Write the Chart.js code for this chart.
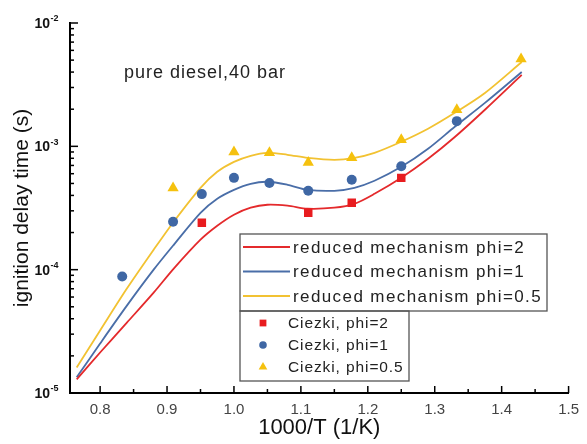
<!DOCTYPE html>
<html>
<head>
<meta charset="utf-8">
<script src="https://cdn.jsdelivr.net/npm/chart.js@4.4.0/dist/chart.umd.min.js"></script>
<style>
  body { margin: 0; background: #fff; }
  #wrap { width: 587px; height: 444px; }
</style>
</head>
<body>
<div id="wrap"><canvas id="delayChart" width="587" height="444"></canvas></div>
<script>
// 1000/T values for the model curves
var curveX = [0.765, 0.80, 0.84, 0.88, 0.91, 0.95, 0.975, 1.0, 1.025, 1.05, 1.08, 1.11, 1.15, 1.18, 1.21, 1.25, 1.29, 1.33, 1.375, 1.43];
var redCurve = [1.29e-5, 2.13e-5, 3.72e-5, 6.51e-5, 1.02e-4, 1.75e-4, 2.27e-4, 2.79e-4, 3.18e-4, 3.36e-4, 3.30e-4, 3.12e-4, 3.18e-4, 3.42e-4, 4.12e-4, 5.56e-4, 7.92e-4, 1.19e-3, 1.98e-3, 3.79e-3];
var blueCurve = [1.34e-5, 2.52e-5, 5.11e-5, 1.00e-4, 1.59e-4, 2.89e-4, 3.76e-4, 4.44e-4, 4.97e-4, 5.16e-4, 4.88e-4, 4.44e-4, 4.36e-4, 4.61e-4, 5.26e-4, 6.82e-4, 9.55e-4, 1.44e-3, 2.25e-3, 4.01e-3];
var yellowCurve = [1.61e-5, 3.21e-5, 7.02e-5, 1.45e-4, 2.45e-4, 4.61e-4, 6.22e-4, 7.49e-4, 8.38e-4, 8.86e-4, 8.54e-4, 8.07e-4, 7.78e-4, 8.07e-4, 8.86e-4, 1.09e-3, 1.39e-3, 1.87e-3, 2.71e-3, 4.83e-3];

// Ciezki measurements
var redPtsX = [0.952, 1.111, 1.176, 1.25];
var redPtsY = [2.4e-4, 2.9e-4, 3.49e-4, 5.55e-4];
var bluePtsX = [0.833, 0.909, 0.952, 1.0, 1.053, 1.111, 1.176, 1.25, 1.333];
var bluePtsY = [8.8e-5, 2.45e-4, 4.1e-4, 5.55e-4, 5.05e-4, 4.37e-4, 5.36e-4, 6.9e-4, 1.6e-3];
var yellowPtsX = [0.909, 1.0, 1.053, 1.111, 1.176, 1.25, 1.333, 1.429];
var yellowPtsY = [4.6e-4, 9.0e-4, 8.86e-4, 7.4e-4, 8.07e-4, 1.13e-3, 1.98e-3, 5.1e-3];

var lineLabels = ['reduced mechanism phi=2', 'reduced mechanism phi=1', 'reduced mechanism phi=0.5'];
var pointLabels = ['Ciezki, phi=2', 'Ciezki, phi=1', 'Ciezki, phi=0.5'];

var xTicks = [0.8, 0.9, 1.0, 1.1, 1.2, 1.3, 1.4, 1.5];
var xTickLabels = ['0.8', '0.9', '1.0', '1.1', '1.2', '1.3', '1.4', '1.5'];
var xMinor = [0.85, 0.95, 1.05, 1.15, 1.25, 1.35, 1.45];
var yTicks = [1e-5, 1e-4, 1e-3, 1e-2];
var yTickExp = ['-5', '-4', '-3', '-2'];
var noteText = 'pure diesel,40 bar';

function pairs(xs, ys) {
  return xs.map(function (v, i) { return { x: v, y: ys[i] }; });
}

var font = 'Liberation Sans, Arial, sans-serif';

// inward ticks, superscript labels, note text and the two-box legend
var decor = {
  id: 'decor',
  afterDraw: function (chart) {
    var ctx = chart.ctx, area = chart.chartArea;
    var xs = chart.scales.x, ys = chart.scales.y;
    ctx.save();
    ctx.strokeStyle = '#000';
    ctx.lineWidth = 1.5;
    function seg(x1, y1, x2, y2) {
      ctx.beginPath(); ctx.moveTo(x1, y1); ctx.lineTo(x2, y2); ctx.stroke();
    }
    xTicks.forEach(function (v) {
      var p = xs.getPixelForValue(v);
      seg(p, area.bottom, p, area.bottom - 7);
    });
    xMinor.forEach(function (v) {
      var p = xs.getPixelForValue(v);
      seg(p, area.bottom, p, area.bottom - 4);
    });
    yTicks.forEach(function (v, i) {
      var p = ys.getPixelForValue(v);
      seg(area.left, p, area.left + 8, p);
      if (i < yTicks.length - 1) {
        for (var m = 2; m <= 9; m++) {
          var q = ys.getPixelForValue(v * m);
          seg(area.left, q, area.left + 4, q);
        }
      }
    });

    // y labels 10^n
    ctx.fillStyle = '#111';
    ctx.textBaseline = 'middle';
    yTicks.forEach(function (v, i) {
      var p = ys.getPixelForValue(v);
      ctx.font = 'bold 14px ' + font;
      ctx.textAlign = 'right';
      ctx.fillText('10', 50, p + 1);
      ctx.font = 'bold 9px ' + font;
      ctx.textAlign = 'left';
      ctx.fillText(yTickExp[i], 50.5, p - 4);
    });

    // note
    ctx.font = '18px ' + font;
    ctx.letterSpacing = '1px';
    ctx.fillStyle = '#222';
    ctx.textAlign = 'left';
    ctx.textBaseline = 'alphabetic';
    ctx.fillText(noteText, 124, 78);

    // legend
    var ds = chart.data.datasets;
    ctx.letterSpacing = '0px';
    ctx.fillStyle = '#fff';
    ctx.fillRect(240, 234, 307, 77);
    ctx.fillRect(240, 311, 169, 70);
    ctx.strokeStyle = '#555';
    ctx.lineWidth = 1.3;
    ctx.strokeRect(240, 234, 307, 77);
    ctx.strokeRect(240, 311, 169, 70);
    ctx.textBaseline = 'middle';
    for (var i = 0; i < 3; i++) {
      var ly = 247 + i * 24.5;
      ctx.strokeStyle = ds[i].borderColor;
      ctx.lineWidth = 1.8;
      seg(243, ly, 290, ly);
      ctx.fillStyle = '#222';
      ctx.font = '17px ' + font;
      ctx.letterSpacing = '1.4px';
      ctx.fillText(ds[i].label, 293, ly + 1);
    }
    var legendR = [4.8, 3.8, 5];
    for (var j = 0; j < 3; j++) {
      var d = ds[3 + j];
      var py = 323 + j * 22;
      ctx.fillStyle = d.backgroundColor;
      ctx.strokeStyle = d.backgroundColor;
      Chart.helpers.drawPoint(ctx, { pointStyle: d.pointStyle, radius: legendR[j], rotation: 0, borderWidth: 0 }, 263, py);
      ctx.fillStyle = '#222';
      ctx.font = '15.5px ' + font;
      ctx.letterSpacing = '0.9px';
      ctx.fillText(d.label, 288, py + 1);
    }
    ctx.restore();
  }
};

var canvas = document.getElementById('delayChart');
var chart = new Chart(canvas, {
  data: {
    datasets: [
      { type: 'line', label: lineLabels[0], data: pairs(curveX, redCurve), borderColor: '#e42a2c', borderWidth: 1.8, pointRadius: 0, tension: 0.3, order: 2 },
      { type: 'line', label: lineLabels[1], data: pairs(curveX, blueCurve), borderColor: '#4a6ea8', borderWidth: 1.8, pointRadius: 0, tension: 0.3, order: 2 },
      { type: 'line', label: lineLabels[2], data: pairs(curveX, yellowCurve), borderColor: '#f2c232', borderWidth: 1.8, pointRadius: 0, tension: 0.3, order: 2 },
      { type: 'scatter', label: pointLabels[0], data: pairs(redPtsX, redPtsY), backgroundColor: '#e81c1f', borderColor: '#e81c1f', pointStyle: 'rect', pointRadius: 6, borderWidth: 0, order: 1 },
      { type: 'scatter', label: pointLabels[1], data: pairs(bluePtsX, bluePtsY), backgroundColor: '#3f67a4', borderColor: '#3f67a4', pointStyle: 'circle', pointRadius: 5, borderWidth: 0, order: 1 },
      { type: 'scatter', label: pointLabels[2], data: pairs(yellowPtsX, yellowPtsY), backgroundColor: '#f5c10e', borderColor: '#f5c10e', pointStyle: 'triangle', pointRadius: 6.5, borderWidth: 0, order: 1 }
    ]
  },
  options: {
    responsive: false,
    animation: false,
    layout: { padding: { left: 0, top: 23, right: 14, bottom: 0 } },
    plugins: { legend: { display: false }, tooltip: { enabled: false } },
    scales: {
      x: {
        type: 'linear',
        min: 0.755,
        max: 1.5,
        afterBuildTicks: function (s) { s.ticks = xTicks.map(function (v) { return { value: v }; }); },
        afterFit: function (s) { s.height = 51; },
        grid: { drawOnChartArea: false, drawTicks: false },
        border: { color: '#000', width: 2 },
        ticks: {
          padding: 8,
          color: '#444',
          font: { family: font, size: 15 },
          callback: function (v, i) { return xTickLabels[i]; }
        },
        title: { display: true, text: '1000/T (1/K)', color: '#111', font: { family: font, size: 22 }, padding: { top: 0, bottom: 3 } }
      },
      y: {
        type: 'logarithmic',
        min: 1e-5,
        max: 1e-2,
        afterBuildTicks: function (s) { s.ticks = yTicks.map(function (v) { return { value: v }; }); },
        afterFit: function (s) { s.width = 70; },
        grid: { drawOnChartArea: false, drawTicks: false },
        border: { color: '#000', width: 2 },
        ticks: { display: false },
        title: { display: true, text: 'ignition delay time (s)', color: '#111', font: { family: font, size: 21 }, padding: { top: 10, bottom: 0 } }
      }
    }
  },
  plugins: [decor]
});
</script>
</body>
</html>
